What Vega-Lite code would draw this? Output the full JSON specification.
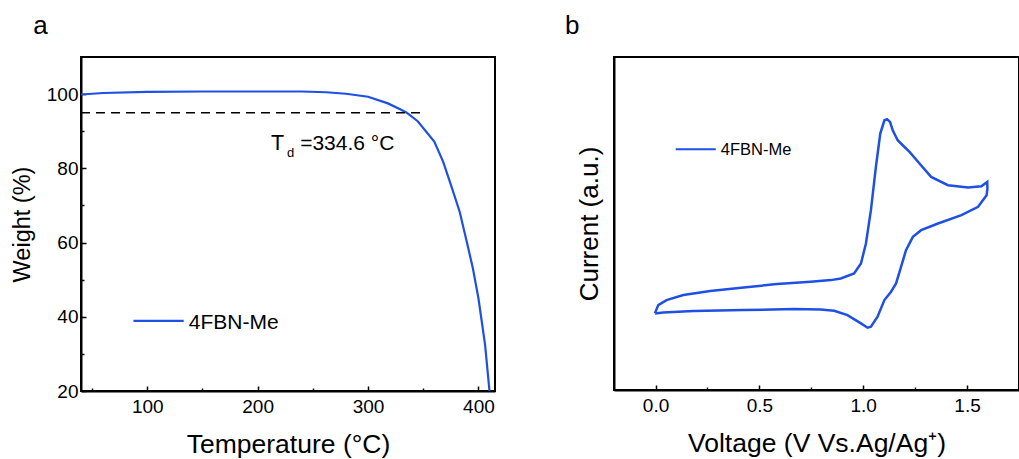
{
  "$schema": "https://vega.github.io/schema/vega-lite/v6.json",
  "background": "white",
  "padding": {"left": 9, "top": 12, "right": 0, "bottom": 0},
  "config": {
    "font": "Liberation Sans",
    "view": {"stroke": "black", "strokeWidth": 2},
    "axis": {
      "domainColor": "black", "domainWidth": 2, "tickColor": "black", "tickWidth": 1.5,
      "labelFont": "Liberation Sans", "labelFontSize": 19, "labelColor": "black",
      "titleFont": "Liberation Sans", "titleFontSize": 26.5, "titleFontWeight": "normal", "titleColor": "black",
      "grid": false
    },
    "title": {"font": "Liberation Sans", "fontSize": 26, "fontWeight": "normal", "anchor": "start", "color": "black"}
  },
  "datasets": {
    "tga": [
      {"T": 40, "W": 99.9}, {"T": 60, "W": 100.3}, {"T": 100, "W": 100.6}, {"T": 150, "W": 100.7},
      {"T": 200, "W": 100.7}, {"T": 240, "W": 100.7}, {"T": 262, "W": 100.5}, {"T": 280, "W": 100.1},
      {"T": 300, "W": 99.3}, {"T": 318, "W": 97.5}, {"T": 330, "W": 95.8}, {"T": 335, "W": 95.0},
      {"T": 345, "W": 92.7}, {"T": 360, "W": 87.2}, {"T": 368, "W": 81.8}, {"T": 375, "W": 75.6},
      {"T": 383, "W": 68.3}, {"T": 390, "W": 59.5}, {"T": 395, "W": 53.0}, {"T": 400, "W": 45.0},
      {"T": 406, "W": 32.5}, {"T": 410, "W": 20.0}
    ],
    "cv": [
      {"i": 1, "V": -0.003, "I": 23.0}, {"i": 2, "V": 0.013, "I": 25.5}, {"i": 3, "V": 0.053, "I": 27.0},
      {"i": 4, "V": 0.134, "I": 28.5}, {"i": 5, "V": 0.263, "I": 29.7}, {"i": 6, "V": 0.424, "I": 30.8},
      {"i": 7, "V": 0.585, "I": 31.8}, {"i": 8, "V": 0.747, "I": 32.5}, {"i": 9, "V": 0.844, "I": 33.0},
      {"i": 10, "V": 0.892, "I": 33.5}, {"i": 11, "V": 0.956, "I": 35.0}, {"i": 12, "V": 0.989, "I": 38.0},
      {"i": 13, "V": 1.013, "I": 44.0}, {"i": 14, "V": 1.037, "I": 54.0}, {"i": 15, "V": 1.061, "I": 67.0},
      {"i": 16, "V": 1.082, "I": 77.0}, {"i": 17, "V": 1.102, "I": 81.0}, {"i": 18, "V": 1.115, "I": 81.3},
      {"i": 19, "V": 1.129, "I": 80.5}, {"i": 20, "V": 1.142, "I": 78.0}, {"i": 21, "V": 1.166, "I": 75.0},
      {"i": 22, "V": 1.19, "I": 73.5}, {"i": 23, "V": 1.223, "I": 71.5}, {"i": 24, "V": 1.271, "I": 68.0},
      {"i": 25, "V": 1.327, "I": 64.0}, {"i": 26, "V": 1.408, "I": 61.5}, {"i": 27, "V": 1.505, "I": 60.8},
      {"i": 28, "V": 1.569, "I": 61.2}, {"i": 29, "V": 1.597, "I": 62.5}, {"i": 30, "V": 1.598, "I": 60.5},
      {"i": 31, "V": 1.594, "I": 58.5}, {"i": 32, "V": 1.553, "I": 55.0}, {"i": 33, "V": 1.473, "I": 52.5},
      {"i": 34, "V": 1.36, "I": 50.0}, {"i": 35, "V": 1.279, "I": 48.0}, {"i": 36, "V": 1.239, "I": 46.0},
      {"i": 37, "V": 1.206, "I": 42.0}, {"i": 38, "V": 1.182, "I": 37.0}, {"i": 39, "V": 1.158, "I": 32.0},
      {"i": 40, "V": 1.134, "I": 29.5}, {"i": 41, "V": 1.102, "I": 27.0}, {"i": 42, "V": 1.069, "I": 22.0},
      {"i": 43, "V": 1.037, "I": 19.0}, {"i": 44, "V": 1.021, "I": 18.7}, {"i": 45, "V": 0.989, "I": 20.0},
      {"i": 46, "V": 0.924, "I": 22.5}, {"i": 47, "V": 0.86, "I": 23.8}, {"i": 48, "V": 0.795, "I": 24.2},
      {"i": 49, "V": 0.666, "I": 24.3}, {"i": 50, "V": 0.424, "I": 24.0}, {"i": 51, "V": 0.182, "I": 23.7},
      {"i": 52, "V": 0.037, "I": 23.3}, {"i": 53, "V": -0.003, "I": 23.0}
    ]
  },
  "spacing": 68,
  "hconcat": [
    {
      "width": 414, "height": 334,
      "title": {"text": "a", "baseline": "alphabetic", "offset": -3, "dx": 23},
      "resolve": {"axis": {"x": "independent", "y": "independent"}},
      "layer": [
        {
          "data": {"name": "tga"},
          "mark": {"type": "line", "color": "#1e50e3", "strokeWidth": 2.2, "clip": true},
          "encoding": {
            "x": {"field": "T", "type": "quantitative", "scale": {"domain": [40, 415], "nice": false, "zero": false},
                  "axis": {"orient": "bottom", "values": [100, 200, 300, 400], "tickSize": -5, "labelPadding": 11, "titlePadding": 15, "title": "Temperature (°C)"}},
            "y": {"field": "W", "type": "quantitative", "scale": {"domain": [20, 110], "nice": false, "zero": false},
                  "axis": {"orient": "left", "values": [20, 40, 60, 80, 100], "tickSize": -5, "labelPadding": 8, "titlePadding": 12, "titleFontSize": 23.5, "title": "Weight (%)"}}
          }
        },
        {
          "data": {"values": [{}]},
          "mark": {"type": "rule", "color": "black", "strokeWidth": 1.5, "strokeDash": [9, 6]},
          "encoding": {
            "x": {"datum": 40, "type": "quantitative",
                  "axis": {"orient": "bottom", "values": [50, 150, 250, 350], "tickSize": -3, "labels": false, "domain": false, "title": null}},
            "x2": {"datum": 350},
            "y": {"datum": 95, "type": "quantitative",
                  "axis": {"orient": "left", "values": [30, 50, 70, 90], "tickSize": -3, "labels": false, "domain": false, "title": null}}
          }
        },
        {
          "data": {"values": [{}]},
          "mark": {"type": "text", "fontSize": 21.5, "align": "left", "baseline": "alphabetic", "color": "black"},
          "encoding": {"x": {"datum": 212, "type": "quantitative", "axis": null}, "y": {"datum": 84.9, "type": "quantitative", "axis": null}, "text": {"value": "T"}}
        },
        {
          "data": {"values": [{}]},
          "mark": {"type": "text", "fontSize": 13, "align": "left", "baseline": "alphabetic", "color": "black"},
          "encoding": {"x": {"datum": 226.6, "type": "quantitative", "axis": null}, "y": {"datum": 83.1, "type": "quantitative", "axis": null}, "text": {"value": "d"}}
        },
        {
          "data": {"values": [{}]},
          "mark": {"type": "text", "fontSize": 21, "align": "left", "baseline": "alphabetic", "color": "black"},
          "encoding": {"x": {"datum": 238.5, "type": "quantitative", "axis": null}, "y": {"datum": 84.9, "type": "quantitative", "axis": null}, "text": {"value": "=334.6 °C"}}
        },
        {
          "data": {"values": [{}]},
          "mark": {"type": "rule", "color": "#1e50e3", "strokeWidth": 2.2},
          "encoding": {"x": {"datum": 87.5, "type": "quantitative", "axis": null}, "x2": {"datum": 133}, "y": {"datum": 38.9, "type": "quantitative", "axis": null}}
        },
        {
          "data": {"values": [{}]},
          "mark": {"type": "text", "fontSize": 21, "align": "left", "baseline": "alphabetic", "color": "black"},
          "encoding": {"x": {"datum": 137.7, "type": "quantitative", "axis": null}, "y": {"datum": 36.8, "type": "quantitative", "axis": null}, "text": {"value": "4FBN-Me"}}
        }
      ]
    },
    {
      "width": 405, "height": 333,
      "title": {"text": "b", "baseline": "alphabetic", "offset": -3, "dx": -11},
      "resolve": {"axis": {"x": "independent", "y": "independent"}},
      "layer": [
        {
          "data": {"name": "cv"},
          "mark": {"type": "line", "color": "#1e50e3", "strokeWidth": 2.5},
          "encoding": {
            "x": {"field": "V", "type": "quantitative", "scale": {"domain": [-0.2, 1.75], "nice": false, "zero": false},
                  "axis": {"orient": "bottom", "values": [0, 0.5, 1, 1.5], "format": ".1f", "tickSize": -5, "labelPadding": 11, "titlePadding": 15, "title": "Voltage (V Vs.Ag/Ag⁺)"}},
            "y": {"field": "I", "type": "quantitative", "scale": {"domain": [0, 100], "nice": false, "zero": false},
                  "axis": {"orient": "left", "ticks": false, "labels": false, "titlePadding": 12, "titleFontSize": 26, "title": "Current (a.u.)"}},
            "order": {"field": "i", "type": "quantitative"}
          }
        },
        {
          "data": {"values": [{}]},
          "mark": {"type": "rule", "color": "#1e50e3", "strokeWidth": 2.2},
          "encoding": {
            "x": {"datum": 0.097, "type": "quantitative",
                  "axis": {"orient": "bottom", "values": [0.25, 0.75, 1.25, 1.75], "tickSize": -3, "labels": false, "domain": false, "title": null}},
            "x2": {"datum": 0.29},
            "y": {"datum": 72.3, "type": "quantitative", "axis": null}
          }
        },
        {
          "data": {"values": [{}]},
          "mark": {"type": "text", "fontSize": 16.5, "align": "left", "baseline": "alphabetic", "color": "black"},
          "encoding": {"x": {"datum": 0.314, "type": "quantitative", "axis": null}, "y": {"datum": 70.5, "type": "quantitative", "axis": null}, "text": {"value": "4FBN-Me"}}
        }
      ]
    }
  ]
}
